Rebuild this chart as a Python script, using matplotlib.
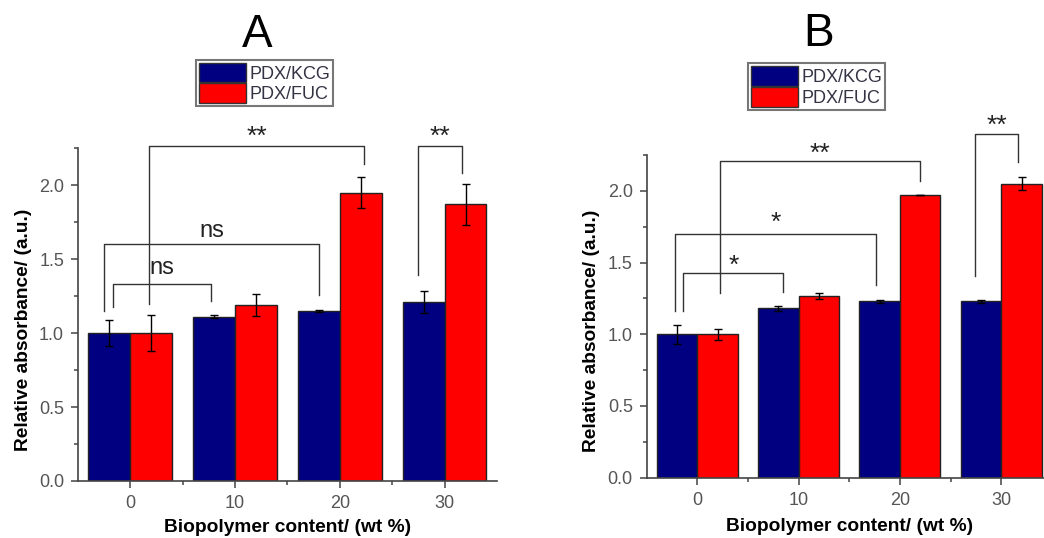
import matplotlib
matplotlib.use('Agg')
import matplotlib.pyplot as plt
from matplotlib.patches import Patch
from matplotlib.ticker import MultipleLocator, FixedLocator
import numpy as np

plt.rcParams['font.family'] = ['Liberation Sans', 'DejaVu Sans']

# 데이터
contents = ['0', '10', '20', '30']
series_names = ['PDX/KCG', 'PDX/FUC']

kcg_A = [1.00, 1.11, 1.15, 1.21]
kcg_A_err = [0.088, 0.01, 0.005, 0.077]
fuc_A = [1.00, 1.19, 1.95, 1.87]
fuc_A_err = [0.12, 0.075, 0.105, 0.14]

kcg_B = [1.00, 1.18, 1.23, 1.23]
kcg_B_err = [0.066, 0.02, 0.01, 0.01]
fuc_B = [1.00, 1.265, 1.97, 2.05]
fuc_B_err = [0.04, 0.02, 0.0, 0.045]

# 유의성 표시: (x1, x2, y, 왼쪽 다리 끝, 오른쪽 다리 끝, 라벨, 라벨 y)
brackets_A = [
    (-0.17, 0.77, 1.335, 1.174, 1.214, 'ns', 1.44),
    (-0.25, 1.80, 1.60, 1.147, 1.257, 'ns', 1.69),
    (0.18, 2.23, 2.267, 1.197, 2.146, '**', 2.33),
    (2.75, 3.17, 2.267, 1.394, 2.083, '**', 2.33),
]
brackets_B = [
    (-0.14, 0.85, 1.429, 1.161, 1.296, '*', 1.48),
    (-0.22, 1.76, 1.702, 1.161, 1.347, '*', 1.78),
    (0.22, 2.20, 2.205, 1.285, 2.07, '**', 2.26),
    (2.74, 3.17, 2.397, 1.406, 2.203, '**', 2.45),
]

navy = '#000080'
red = '#ff0000'
grey = '#555555'

fig = plt.figure(figsize=(10.44, 5.38), dpi=100)
axA = fig.add_axes([0.0747, 0.106, 0.4013, 0.6184])
axB = fig.add_axes([0.6194, 0.1121, 0.3882, 0.5998])


def draw_panel(ax, kcg, kcg_err, fuc, fuc_err, brackets, xl_y, yl_x):
    x = np.arange(len(contents))
    w = 0.4
    ek = dict(ecolor='black', elinewidth=1, capsize=3, capthick=1)
    ax.bar(x - w / 2, kcg, w, yerr=kcg_err, color=navy, edgecolor='#222222',
           linewidth=1, error_kw=ek)
    ax.bar(x + w / 2, fuc, w, yerr=fuc_err, color=red, edgecolor='#222222',
           linewidth=1, error_kw=ek)
    ax.set_xlim(-0.5, 3.5)
    ax.set_ylim(0, 2.25)
    ax.set_xticks(x)
    ax.set_xticklabels(contents)
    ax.xaxis.set_minor_locator(FixedLocator([0.5, 1.5, 2.5]))
    ax.yaxis.set_major_locator(MultipleLocator(0.5))
    ax.yaxis.set_minor_locator(MultipleLocator(0.25))
    ax.set_yticks([0, 0.5, 1.0, 1.5, 2.0])
    ax.set_yticklabels(['0.0', '0.5', '1.0', '1.5', '2.0'])
    for s in ['top', 'right']:
        ax.spines[s].set_visible(False)
    for s in ['left', 'bottom']:
        ax.spines[s].set_color('#444444')
        ax.spines[s].set_linewidth(1.2)
    ax.tick_params(which='major', direction='out', length=5, width=1.1,
                   color='#444444', labelsize=13, labelcolor=grey, pad=5)
    ax.tick_params(which='minor', direction='out', length=3, width=1.1,
                   color='#444444')
    ax.set_xlabel('Biopolymer content/ (wt %)', fontsize=13.8, fontweight='bold')
    ax.set_ylabel('Relative absorbance/ (a.u.)', fontsize=13.8, fontweight='bold')
    ax.xaxis.label.set_va('center')
    ax.yaxis.label.set_va('center')
    ax.xaxis.set_label_coords(0.5, xl_y)
    ax.yaxis.set_label_coords(yl_x, 0.455)

    for x1, x2, y, yl, yr, lab, ty in brackets:
        ax.plot([x1, x1, x2, x2], [yl, y, y, yr], color='#333333',
                linewidth=1, clip_on=False)
        fs = 17 if lab == 'ns' else 19
        ax.text((x1 + x2) / 2, ty, lab, ha='center', va='center',
                fontsize=fs, color='#222222', clip_on=False)


draw_panel(axA, kcg_A, kcg_A_err, fuc_A, fuc_A_err, brackets_A, -0.141, -0.131)
draw_panel(axB, kcg_B, kcg_B_err, fuc_B, fuc_B_err, brackets_B, -0.152, -0.136)

fig.text(0.2459, 0.935, 'A', fontsize=33, ha='center', va='center')
fig.text(0.7838, 0.937, 'B', fontsize=33, ha='center', va='center')

handles = [Patch(facecolor=navy, edgecolor='#333333', linewidth=1),
           Patch(facecolor=red, edgecolor='#333333', linewidth=1)]
for cx, cy in [(0.2534, 0.8457), (0.7823, 0.8392)]:
    leg = fig.legend(handles, series_names, loc='center', bbox_to_anchor=(cx, cy),
                     fontsize=13, frameon=True, fancybox=False, handlelength=2.6,
                     handleheight=1.3, handletextpad=0.2, labelspacing=0.05,
                     borderpad=0.15, borderaxespad=0)
    leg.get_frame().set_edgecolor('#555555')
    leg.get_frame().set_linewidth(1.5)
    for t in leg.get_texts():
        t.set_color('#333344')

fig.savefig('out.png', dpi=100)
